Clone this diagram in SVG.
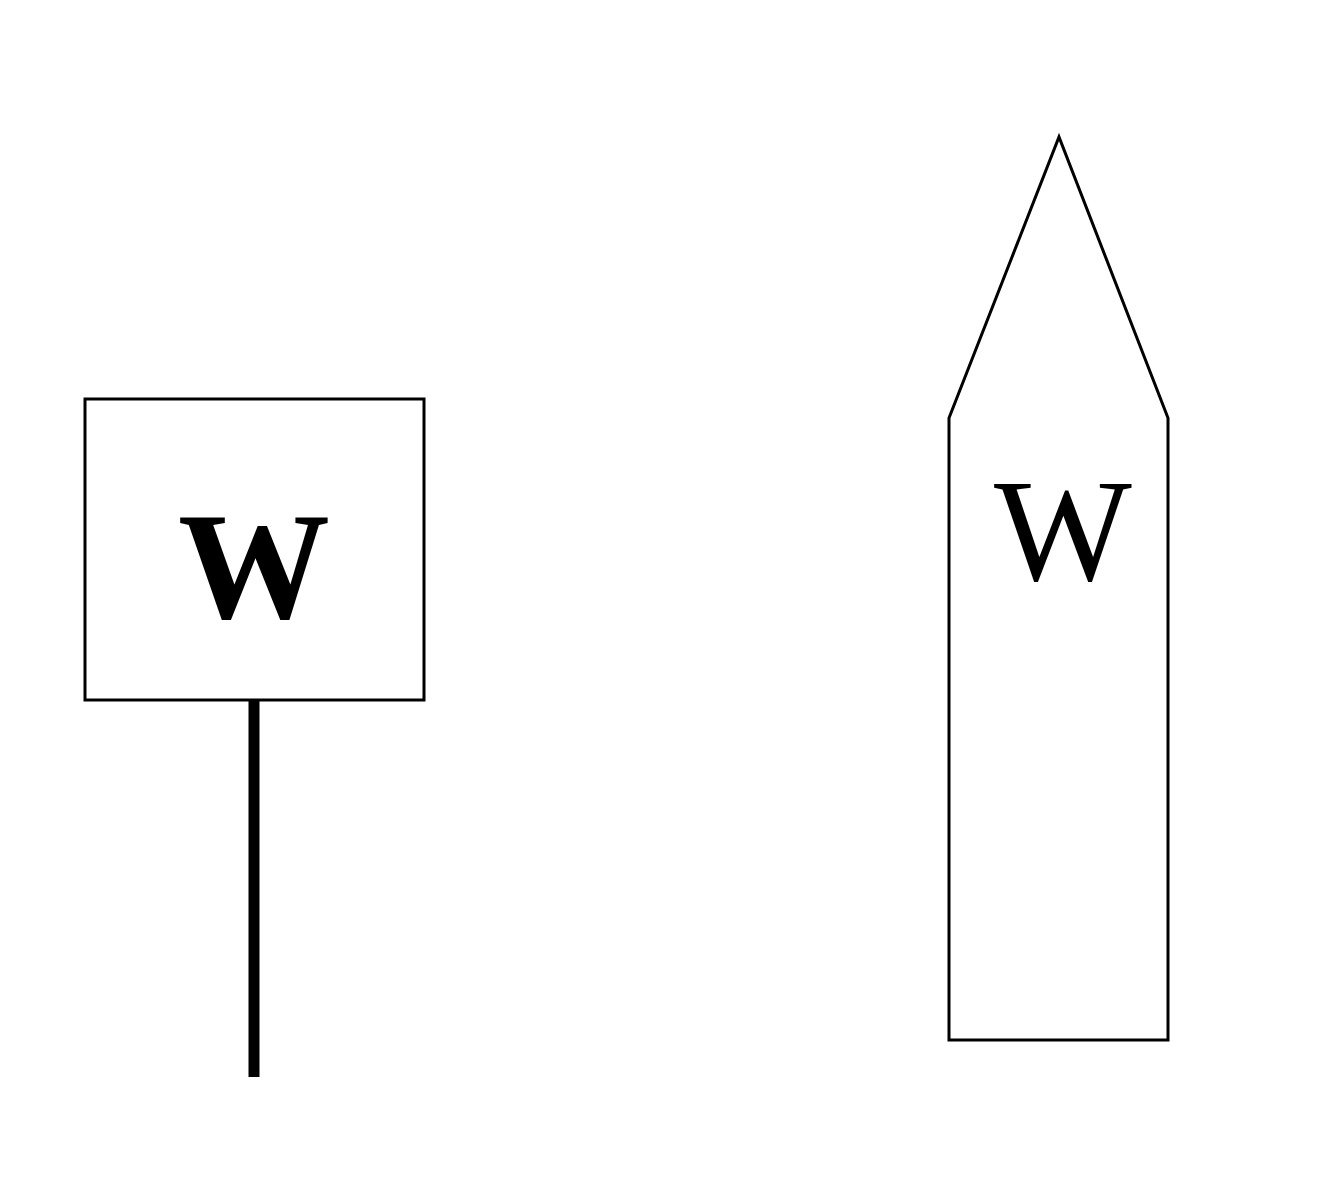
<svg xmlns="http://www.w3.org/2000/svg" width="1336" height="1200" viewBox="0 0 1336 1200">
<style>
.s{fill:#fff;stroke:#000;stroke-width:3}
.t{font-family:"Liberation Serif",serif;text-anchor:middle;fill:#000}
</style>
<rect width="1336" height="1200" fill="#fff"/>
<g id="connectors">
<line x1="254" y1="700" x2="254" y2="1077" stroke="#000" stroke-width="11"/>
</g>
<g id="node-box">
<rect class="s" x="85" y="399" width="339" height="301"/>
<text class="t" x="254" y="618" font-size="152" font-weight="bold">W</text>
</g>
<g id="node-tower">
<polygon class="s" points="949,1040 949,418 1059,137 1168,418 1168,1040"/>
<text class="t" x="1063" y="580" font-size="146">W</text>
</g>
</svg>
